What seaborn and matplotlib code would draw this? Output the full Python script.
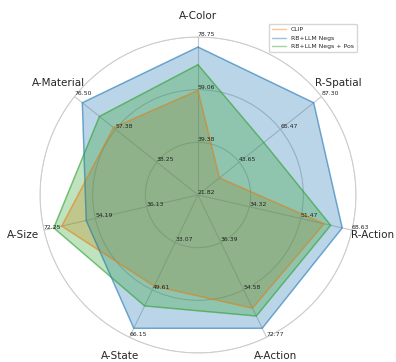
import numpy as np
import matplotlib
matplotlib.use("Agg")
import matplotlib.pyplot as plt
import seaborn as sns

# axes go clockwise starting at the top
categories = ["A-Color", "R-Spatial", "R-Action", "A-Action", "A-State", "A-Size", "A-Material"]

# outer tick value per axis (the radar is normalised per axis)
axis_max = [78.752, 87.298, 68.632, 72.772, 66.148, 72.254, 76.502]

clip_vals = [58.8, 33.2, 59.3, 61.6, 48.3, 66.0, 58.4]
negs_vals = [75.0, 83.14, 65.36, 69.30, 63.0, 57.4, 72.86]
negs_pos_vals = [68.4, 56.7, 61.5, 64.6, 55.2, 68.81, 64.9]

series_names = ["CLIP", "RB+LLM Negs", "RB+LLM Negs + Pos"]
series_vals = [clip_vals, negs_vals, negs_pos_vals]

sns.set_style("white")
pal = sns.color_palette("tab10")
colors = [pal[1], pal[0], pal[2]]

n = len(categories)
angles = np.linspace(0, 2 * np.pi, n, endpoint=False)
angles_closed = np.concatenate([angles, angles[:1]])

fig = plt.figure(figsize=(3.96, 3.62), dpi=100)
ax = fig.add_axes([40 / 396, 9 / 362, 316 / 396, 316 / 362], polar=True)
ax.set_theta_offset(np.pi / 2)
ax.set_theta_direction(-1)

for name, vals, col in zip(series_names, series_vals, colors):
    frac = np.array(vals) / np.array(axis_max)
    frac = np.concatenate([frac, frac[:1]])
    ax.plot(angles_closed, frac, color=col, lw=1.0, alpha=0.45, label=name)
    ax.fill(angles_closed, frac, color=col, alpha=0.3)

ax.set_ylim(0.25, 1.0)
ax.set_yticks([0.5, 0.75, 1.0])
ax.set_yticklabels([])
ax.set_xticks(angles)
ax.set_xticklabels([])
ax.grid(True, color="#c8c8c8", lw=0.8)
ax.spines["polar"].set_color("#cccccc")
ax.spines["polar"].set_linewidth(0.7)

# per-axis value labels
for i, ang in enumerate(angles):
    levels = [0.5, 0.75, 1.0]
    if categories[i] == "R-Spatial":
        levels = [0.25] + levels
    for lv in levels:
        ax.text(ang, lv, f"{axis_max[i] * lv:.2f}", fontsize=4.4, color="#222222",
                ha="left", va="bottom")

for ang, cat in zip(angles, categories):
    ax.text(ang, 1.10, cat, fontsize=7.5, ha="center", va="center")

fig.legend(loc="upper right", bbox_to_anchor=(360 / 396, 1 - 21 / 362), fontsize=4.4,
           frameon=True, handlelength=2.3, labelspacing=0.5, borderpad=0.5)

fig.savefig("out.png", dpi=100)
